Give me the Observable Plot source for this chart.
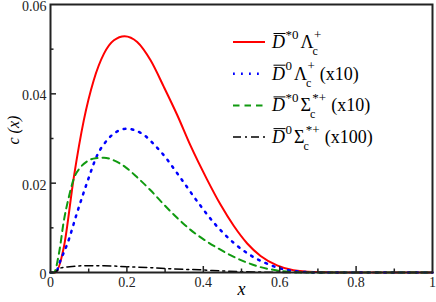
<!DOCTYPE html>
<html>
<head>
<meta charset="utf-8">
<script src="https://cdn.jsdelivr.net/npm/d3@7"></script>
<script src="https://cdn.jsdelivr.net/npm/@observablehq/plot@0.6"></script>
<style>
  html, body { margin: 0; padding: 0; background: white; }
</style>
</head>
<body>
<div id="chart"></div>
<script>
// ---- data ----
const redX = [0, 0.013, 0.035, 0.061, 0.087, 0.113, 0.14, 0.166, 0.194, 0.227, 0.262, 0.297, 0.332, 0.366, 0.41, 0.445, 0.48, 0.515, 0.55, 0.593, 0.636, 0.69, 0.75, 0.85, 1.0];
const redY = [0, 0, 0.0057, 0.0213, 0.034, 0.043, 0.049, 0.052, 0.0529, 0.0516, 0.0475, 0.0415, 0.0352, 0.0285, 0.0208, 0.0152, 0.0104, 0.0065, 0.0037, 0.0016, 0.0005, 0.0001, 0, 0, 0];

const blueX = [0, 0.013, 0.026, 0.044, 0.07, 0.096, 0.122, 0.15, 0.175, 0.202, 0.222, 0.243, 0.273, 0.301, 0.325, 0.351, 0.375, 0.401, 0.428, 0.454, 0.484, 0.519, 0.558, 0.598, 0.641, 0.7, 0.8, 1.0];
const blueY = [0, 0, 0.0027, 0.0064, 0.0135, 0.0202, 0.0262, 0.0298, 0.0316, 0.0322, 0.0318, 0.0309, 0.0285, 0.0258, 0.023, 0.0199, 0.017, 0.014, 0.0111, 0.0087, 0.0063, 0.0041, 0.0023, 0.001, 0.0003, 0, 0, 0];

const greenX = [0, 0.009, 0.022, 0.035, 0.048, 0.061, 0.079, 0.096, 0.118, 0.14, 0.166, 0.196, 0.227, 0.262, 0.297, 0.332, 0.366, 0.41, 0.445, 0.48, 0.515, 0.55, 0.59, 0.63, 0.67, 0.8, 1.0];
const greenY = [0, 0, 0.0042, 0.0116, 0.0169, 0.021, 0.0236, 0.0249, 0.0256, 0.0257, 0.0251, 0.0236, 0.0213, 0.0184, 0.0152, 0.0122, 0.0096, 0.0069, 0.0051, 0.0035, 0.0022, 0.0012, 0.0005, 0.0001, 0, 0, 0];

const blackX = [0, 0.01, 0.026, 0.05, 0.09, 0.14, 0.2, 0.26, 0.32, 0.39, 0.46, 0.55, 0.65, 1.0];
const blackY = [0, 0, 0.001, 0.0013, 0.0015, 0.0015, 0.0013, 0.0011, 0.0008, 0.0006, 0.0003, 0.0001, 0, 0];

const xTicks = [0, 0.2, 0.4, 0.6, 0.8, 1];
const xMinor = [0.1, 0.3, 0.5, 0.7, 0.9];
const yTicks = [0, 0.02, 0.04, 0.06];
const yMinor = [0.01, 0.03, 0.05];

const xLabel = "x";
const yLabel = "c (x)";

// legend labels: D̄ with superscript, baryon with sub/sup, factor
const legendLabels = [
  {sup1: "*0", baryon: "Λ", sub: "c", sup2: "+", factor: ""},
  {sup1: "0", baryon: "Λ", sub: "c", sup2: "+", factor: "(x10)"},
  {sup1: "*0", baryon: "Σ", sub: "c", sup2: "*+", factor: "(x10)"},
  {sup1: "0", baryon: "Σ", sub: "c", sup2: "*+", factor: "(x100)"}
];

const seriesStyles = [
  {stroke: "#ff0000", strokeWidth: 2, dash: null},
  {stroke: "#0000ff", strokeWidth: 2.5, dash: "1.8,6.2"},
  {stroke: "#109a10", strokeWidth: 2, dash: "6.5,5"},
  {stroke: "#000000", strokeWidth: 1.5, dash: "8,4,2,4"}
];

const toRows = (xs, ys) => xs.map((x, i) => ({x, y: ys[i]}));
const series = [toRows(redX, redY), toRows(blueX, blueY), toRows(greenX, greenY), toRows(blackX, blackY)];

const axisColor = "#222";
const serif = "Liberation Serif";

const chart = Plot.plot({
  width: 436,
  height: 302,
  marginLeft: 50,
  marginRight: 4,
  marginTop: 4,
  marginBottom: 30,
  x: {domain: [0, 1]},
  y: {domain: [0, 0.06]},
  style: `font-family: ${serif}; font-size: 14px; color: ${axisColor}; background: white;`,
  marks: [
    Plot.axisX({ticks: xTicks, tickSize: 0, tickPadding: 5, tickFormat: d => String(d), label: null, fontSize: 14, fontFamily: serif}),
    Plot.axisY({ticks: yTicks, tickSize: 0, tickPadding: 4, dy: 2, tickFormat: d => String(d), label: null, fontSize: 14, fontFamily: serif}),
    ...series.map((rows, i) => Plot.line(rows, {
      x: "x", y: "y", curve: "monotone-x",
      stroke: seriesStyles[i].stroke,
      strokeWidth: seriesStyles[i].strokeWidth,
      strokeDasharray: seriesStyles[i].dash
    })),
    Plot.tickX(xTicks.slice(1, -1), {x: d => d, insetTop: 262, stroke: axisColor, strokeWidth: 1.5}),
    Plot.tickX(xMinor, {x: d => d, insetTop: 264.5, stroke: axisColor, strokeWidth: 1.5}),
    Plot.tickY(yTicks.slice(1, -1), {y: d => d, insetRight: 376, stroke: axisColor, strokeWidth: 1.5}),
    Plot.tickY(yMinor, {y: d => d, insetRight: 378.5, stroke: axisColor, strokeWidth: 1.5}),
    Plot.frame({stroke: axisColor, strokeWidth: 2}),
    Plot.text([xLabel], {frameAnchor: "bottom", dy: 22, fontStyle: "italic", fontSize: 18, fontFamily: serif, fill: "#000"}),
    Plot.text([yLabel], {frameAnchor: "left", dx: -37, dy: 6, rotate: -90, fontStyle: "italic", fontSize: 16, fontFamily: serif, fill: "#000"})
  ]
});

document.getElementById("chart").appendChild(chart);

// make sure every Plot text carries the serif face itself
d3.select(chart).selectAll("text").attr("font-family", serif);

// ---- legend (real SVG text with tspans, laid out by the text flow) ----
const svg = d3.select(chart);
const lg = svg.append("g").attr("fill", "#000").attr("text-anchor", "start");

const lineX0 = 233, lineX1 = 265, textX = 272, baseY0 = 48, rowStep = 31.7;

legendLabels.forEach((lab, i) => {
  const by = baseY0 + i * rowStep;
  const st = seriesStyles[i];
  lg.append("line")
    .attr("x1", lineX0).attr("x2", lineX1)
    .attr("y1", by - 6).attr("y2", by - 6)
    .attr("stroke", st.stroke)
    .attr("stroke-width", st.strokeWidth)
    .attr("stroke-dasharray", st.dash);

  // overbar of the D (anti-charm meson)
  lg.append("line")
    .attr("x1", textX + 1.5).attr("x2", textX + 13.5)
    .attr("y1", by - 14.5).attr("y2", by - 14.5)
    .attr("stroke", "#000").attr("stroke-width", 1);

  const t = lg.append("text").attr("x", textX).attr("y", by)
    .attr("font-family", serif).attr("font-size", 18).attr("text-anchor", "start");
  t.append("tspan").attr("font-style", "italic").text("D");
  t.append("tspan").attr("dx", 0.5).attr("dy", -9.5).attr("font-size", 13).text(lab.sup1);
  t.append("tspan").attr("dx", 2).attr("dy", 9.5).text(lab.baryon);
  t.append("tspan").attr("dx", -1).attr("dy", 7).attr("font-size", 12).text(lab.sub);
  const back = lab.sup2.length > 1 ? -3 : -4;
  t.append("tspan").attr("dx", back).attr("dy", -16.5).attr("font-size", 13).text(lab.sup2);
  if (lab.factor) {
    t.append("tspan").attr("dx", 5).attr("dy", 9.5).text(lab.factor);
  }
});
</script>
</body>
</html>
